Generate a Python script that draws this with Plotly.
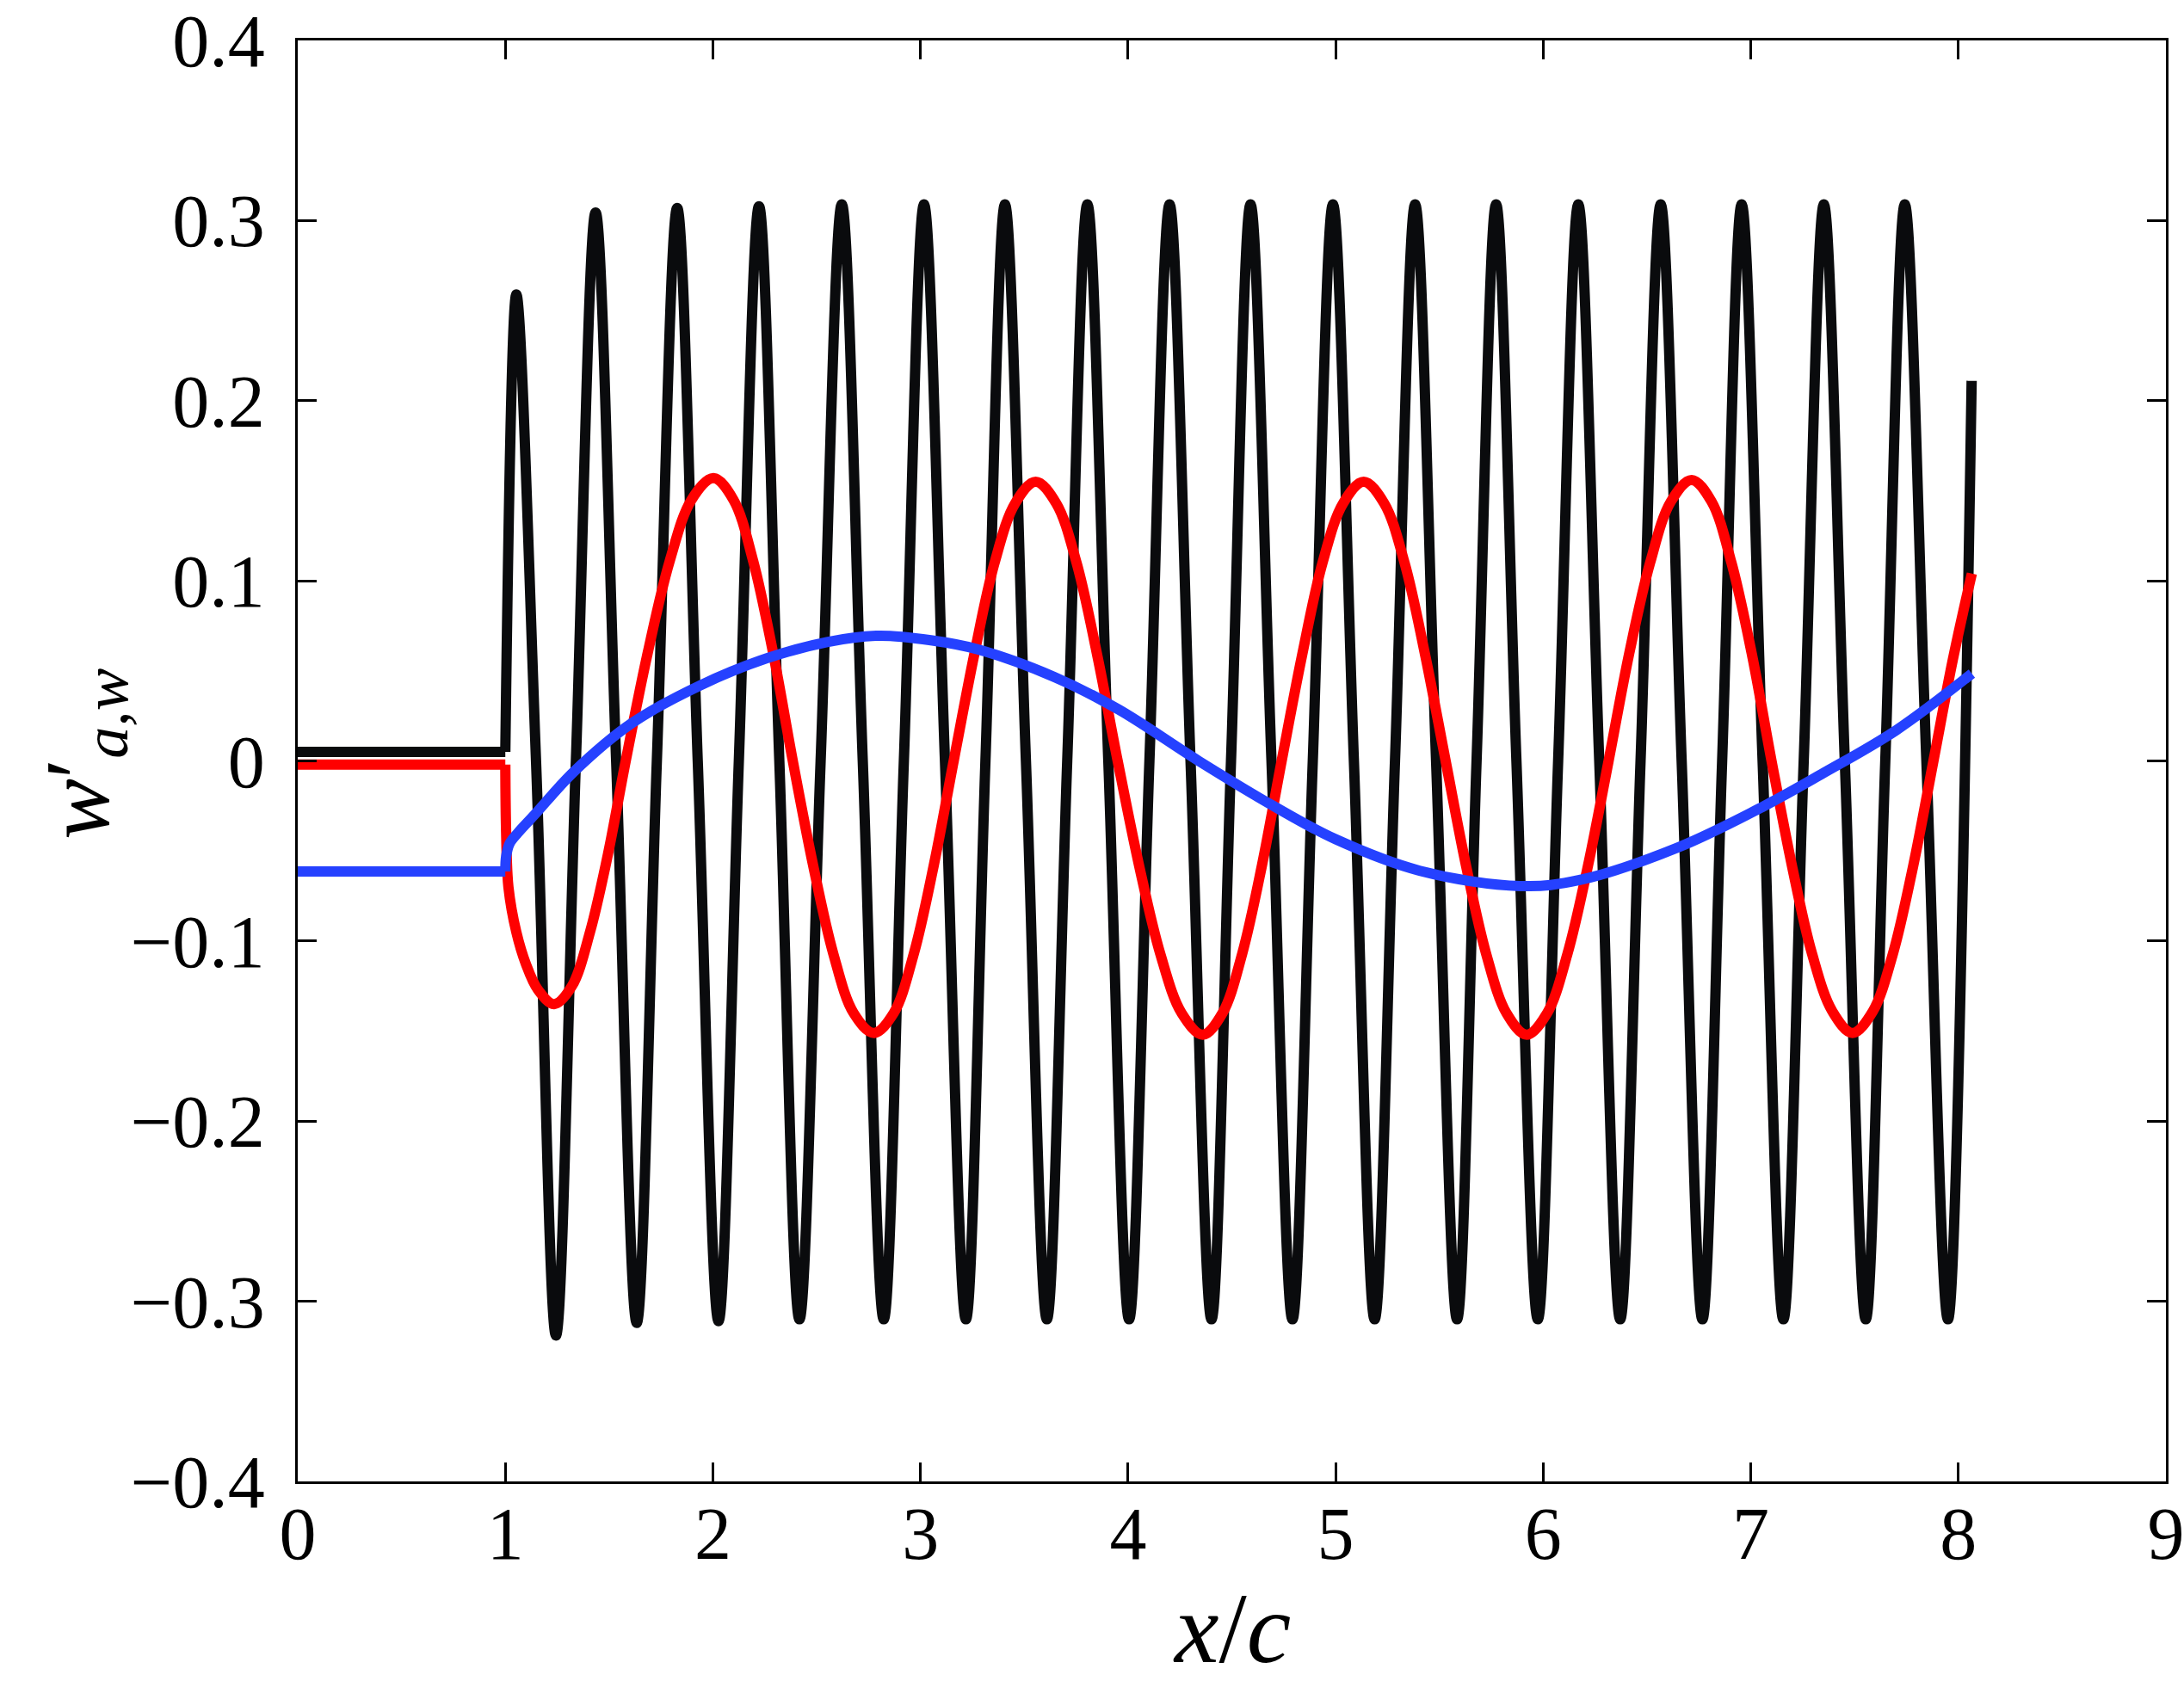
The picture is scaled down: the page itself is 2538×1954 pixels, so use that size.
import plotly.graph_objects as go

# ---- data ----
# flat parts before x/c = 1
black_flat_x = [0.0, 1.0]
black_flat_y = [0.005, 0.005]
red_flat_x = [0.0, 1.0]
red_flat_y = [-0.002, -0.002]
blue_flat_x = [0.0, 1.0]
blue_flat_y = [-0.0614, -0.0614]

# oscillating parts after x/c = 1
black_x = [1.0, 1.053, 1.148, 1.244, 1.34, 1.435, 1.534, 1.633, 1.73, 1.828, 1.927,
           2.027, 2.125, 2.222, 2.32, 2.417, 2.519, 2.621, 2.722, 2.823, 2.92, 3.017, 3.118,
           3.219, 3.313, 3.407, 3.508, 3.609, 3.707, 3.804, 3.905, 4.005, 4.103, 4.200, 4.301,
           4.402, 4.496, 4.590, 4.691, 4.792, 4.89, 4.987, 5.088, 5.188, 5.286, 5.383, 5.484,
           5.585, 5.679, 5.773, 5.871, 5.974, 6.072, 6.169, 6.27, 6.371, 6.469, 6.566, 6.667,
           6.767, 6.862, 6.956, 7.057, 7.157, 7.255, 7.352, 7.453, 7.554, 7.648, 7.742, 7.846,
           7.950, 8.064]
black_y = [0.005, 0.259, 0.0, -0.319, 0.0, 0.3045, 0.0, -0.312, 0.0, 0.307, 0.0,
           -0.311, 0.0, 0.308, 0.0, -0.310, 0.0, 0.309, 0.0, -0.310, 0.0, 0.309, 0.0,
           -0.310, 0.0, 0.309, 0.0, -0.310, 0.0, 0.309, 0.0, -0.310, 0.0, 0.309, 0.0,
           -0.310, 0.0, 0.309, 0.0, -0.310, 0.0, 0.309, 0.0, -0.310, 0.0, 0.309, 0.0,
           -0.310, 0.0, 0.309, 0.0, -0.310, 0.0, 0.309, 0.0, -0.310, 0.0, 0.309, 0.0,
           -0.310, 0.0, 0.309, 0.0, -0.310, 0.0, 0.309, 0.0, -0.310, 0.0, 0.309, 0.0,
           -0.310, 0.211]

red_x = [1.0, 1.004, 1.015, 1.053, 1.10, 1.157, 1.235,
         1.321, 1.408, 1.494, 1.58, 1.686, 1.792, 1.897, 2.003,
         2.099, 2.194, 2.29, 2.385, 2.483, 2.58, 2.678, 2.775,
         2.871, 2.968, 3.064, 3.16, 3.259, 3.357, 3.456, 3.555,
         3.654, 3.752, 3.851, 3.95, 4.053, 4.155, 4.258, 4.36,
         4.455, 4.55, 4.645, 4.74, 4.839, 4.937, 5.036, 5.135,
         5.234, 5.332, 5.431, 5.53, 5.628, 5.725, 5.823, 5.92,
         6.019, 6.117, 6.216, 6.315, 6.415, 6.515, 6.615, 6.715,
         6.811, 6.907, 7.004, 7.10, 7.198, 7.295, 7.393, 7.49,
         7.588, 7.685, 7.783, 7.88, 7.973, 8.065]
red_y = [-0.002, -0.04, -0.07, -0.095, -0.113, -0.127, -0.135,
         -0.125, -0.095, -0.052, 0.0, 0.060, 0.111, 0.145, 0.157,
         0.145, 0.111, 0.060, 0.0, -0.058, -0.107, -0.140, -0.151,
         -0.140, -0.107, -0.058, 0.0, 0.059, 0.110, 0.143, 0.155,
         0.143, 0.110, 0.059, 0.0, -0.058, -0.107, -0.140, -0.152,
         -0.140, -0.107, -0.058, 0.0, 0.059, 0.110, 0.143, 0.155,
         0.143, 0.110, 0.059, 0.0, -0.058, -0.107, -0.140, -0.152,
         -0.140, -0.107, -0.058, 0.0, 0.060, 0.110, 0.144, 0.156,
         0.144, 0.110, 0.060, 0.0, -0.058, -0.107, -0.139, -0.151,
         -0.139, -0.107, -0.058, 0.0, 0.056, 0.104]

blue_x = [1.0, 1.004, 1.02, 1.06, 1.14, 1.33, 1.61, 1.94, 2.26, 2.55, 2.795, 3.05, 3.275,
          3.645, 3.955, 4.34, 4.7, 5.0, 5.406, 5.89, 6.18, 6.65, 7.065, 7.34, 7.7, 8.065]
blue_y = [-0.0614, -0.053, -0.046, -0.040, -0.030, -0.006, 0.021, 0.042, 0.057, 0.066,
          0.0695, 0.067, 0.062, 0.0466, 0.0285, 0.0, -0.025, -0.0435, -0.061, -0.0695, -0.066,
          -0.048, -0.025, -0.0074, 0.017, 0.0485]

x_ticks = [0, 1, 2, 3, 4, 5, 6, 7, 8, 9]
x_ticktext = ["0", "1", "2", "3", "4", "5", "6", "7", "8", "9"]
y_ticks = [-0.4, -0.3, -0.2, -0.1, 0, 0.1, 0.2, 0.3, 0.4]
y_ticktext = ["\u22120.4", "\u22120.3", "\u22120.2", "\u22120.1", "0", "0.1", "0.2", "0.3", "0.4"]

FONT = "Liberation Serif"
LW = 12
BLACK = "#0a0b0d"
RED = "#ff0000"
BLUE = "#2541ff"

fig = go.Figure()
for fx, fy, wx, wy, col in [(black_flat_x, black_flat_y, black_x, black_y, BLACK),
                            (red_flat_x, red_flat_y, red_x, red_y, RED),
                            (blue_flat_x, blue_flat_y, blue_x, blue_y, BLUE)]:
    fig.add_trace(go.Scatter(x=fx, y=fy, mode="lines",
                             line=dict(color=col, width=LW, shape="linear")))
    fig.add_trace(go.Scatter(x=wx, y=wy, mode="lines",
                             line=dict(color=col, width=LW, shape="spline", smoothing=1.0)))

axis_common = dict(showgrid=False, zeroline=False, showline=True, linecolor="black", linewidth=3,
                   ticks="inside", ticklen=22, tickwidth=3, tickcolor="black", mirror="ticks",
                   automargin=False, ticklabeloverflow="allow",
                   tickfont=dict(family=FONT, size=86, color="black"))

fig.update_layout(
    width=2538, height=1954,
    margin=dict(l=346, r=21, t=47, b=232),
    paper_bgcolor="white", plot_bgcolor="white",
    showlegend=False,
    xaxis=dict(range=[0, 9], tickmode="array", tickvals=x_ticks, ticktext=x_ticktext,
               ticklabelstandoff=-16, **axis_common),
    yaxis=dict(range=[-0.4, 0.4], tickmode="array", tickvals=y_ticks, ticktext=y_ticktext,
               ticklabelstandoff=18, **axis_common),
    annotations=[
        dict(text="<i>x</i>/<i>c</i>", xref="paper", yref="paper", x=0.5, y=-0.102,
             xanchor="center", yanchor="middle", showarrow=False,
             font=dict(family=FONT, size=116, color="black")),
        dict(text="<i>w</i>\u2032<sub><i>a,w</i></sub>",
             xref="paper", yref="paper",
             x=-0.1144, y=0.505, xanchor="center", yanchor="middle", textangle=-90,
             showarrow=False, font=dict(family=FONT, size=106, color="black")),
    ],
)

fig.write_html(
    "out.html",
    config={"displayModeBar": False},
    post_script="document.body.style.margin='0';document.documentElement.style.overflow='hidden';document.body.style.overflow='hidden';",
)
